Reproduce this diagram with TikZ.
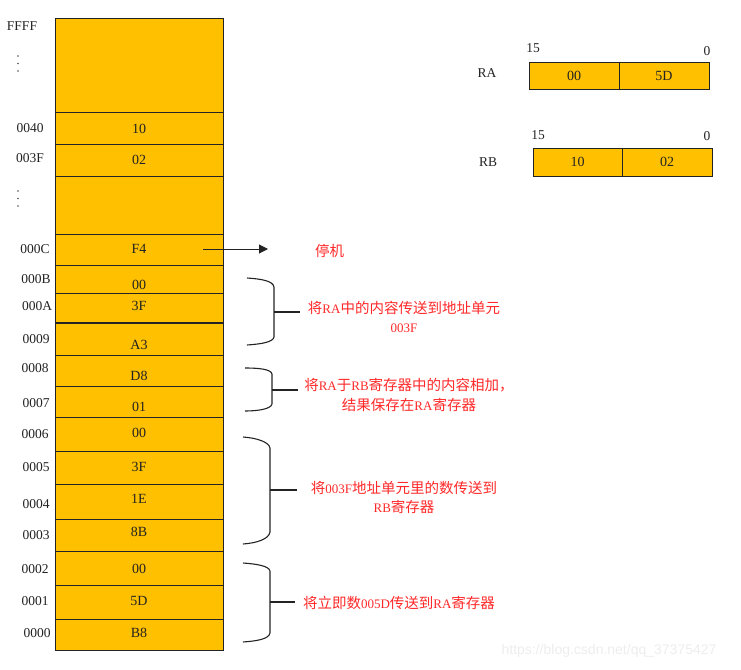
\documentclass[tikz,border=0pt]{standalone}
\usepackage{fontspec}
\setmainfont{Liberation Serif}
\newfontfamily\cjk{Noto Sans CJK SC}
\newfontfamily\wmfont{Liberation Sans}
\usetikzlibrary{arrows.meta}
\definecolor{gold}{RGB}{255,192,0}
\definecolor{note}{RGB}{255,40,40}
\definecolor{ink}{RGB}{35,35,35}
\newcommand\lt[1]{{\rmfamily\fontsize{13}{19}\selectfont #1}}
\begin{document}
\begin{tikzpicture}[x=1pt,y=-1pt,
  cell/.style={draw=ink, line width=0.9pt, fill=gold, minimum width=168pt, inner sep=0pt, outer sep=0pt},
  val/.style={font=\fontsize{14}{16}\selectfont, text=ink, inner sep=0pt},
  addr/.style={font=\fontsize{13.5}{16}\selectfont, text=ink, inner sep=0pt},
  reg/.style={draw=ink, line width=0.9pt, fill=gold, minimum height=27pt, minimum width=90pt, inner sep=0pt, outer sep=0pt, font=\fontsize{14}{16}\selectfont, text=ink},
  note/.style={text=note, font=\cjk\fontsize{14.5}{19.5}\selectfont, align=center, inner sep=1pt},
  brace/.style={draw=ink, line width=1.1pt},
  dotm/.style={fill=ink!80}
]
\useasboundingbox (0,0) rectangle (741,669);

% memory column
\node[cell, minimum height=94.7pt] (cellTop) at (139,65.35) {};
\node[cell, minimum height=58.3pt] (cellGap) at (139,205.15) {};
\foreach \n/\c/\h/\v/\ty in {
  0040/128.5/31.6/10/128.5,
  003F/160.15/31.7/02/160,
  000C/249.8/31/F4/248.5,
  000B/279.5/28.4/00/285,
  000A/308.2/29/3F/306,
  0009/338.85/32.3/A3/345,
  0008/370.5/31/D8/376,
  0007/401.85/31.7/01/407,
  0006/434.7/34/00/433,
  0005/468/32.6/3F/467,
  0004/501.65/34.7/1E/499,
  0003/535.35/32.7/8B/532,
  0002/568.7/34/00/569,
  0001/602.35/33.3/5D/601,
  0000/634.85/31.7/B8/633}{
  \node[cell, minimum height=\h pt] (cell\n) at (139,\c) {};
  \node[val] (val\n) at (139,\ty) {\v};
}
\draw[draw=ink, line width=2pt] (cell000A.south west) -- (cell000A.south east);

% address labels
\foreach \n/\x/\y in {FFFF/22/26, 0040/30/128, 003F/30/158, 000C/35/249, 000B/36/279,
  000A/37/306, 0009/36/339, 0008/35/368, 0007/36/403, 0006/35/434, 0005/36/467,
  0004/36/504, 0003/36/535, 0002/35/569, 0001/35/601, 0000/37/633}{
  \node[addr] (addr\n) at (\x,\y) {\n};
}
% vertical dots
\foreach \y in {56,63.5,71,191,198.5,206}{
  \fill[dotm] (18,\y) circle (0.9);
}

% halt arrow
\coordinate (haltEnd) at (268,249);
\node[note, anchor=west] (halt) at (314,251) {停机};
\draw[draw=ink, line width=1pt, -{Triangle[length=9pt,width=9pt]}] (203,249) -- (haltEnd);

% registers
\node[reg, minimum width=90pt] (raHi) at (574,75.5) {00};
\node[reg, minimum width=90pt] (raLo) at (664,75.5) {5D};
\node[reg, minimum width=89pt, minimum height=28pt] (rbHi) at (577.5,162) {10};
\node[reg, minimum width=90pt, minimum height=28pt] (rbLo) at (667,162) {02};
\node[addr] (raName) at (487,73) {RA};
\node[addr] (rbName) at (488,162) {RB};
\node[addr] (ra15) at (533,48) {15};
\node[addr] (ra0) at (707,51) {0};
\node[addr] (rb15) at (538,135) {15};
\node[addr] (rb0) at (707,136) {0};

% brace 1
\draw[brace] (247,278) .. controls (262,279) and (273,281) .. (274,287) -- (274,337) .. controls (273,342) and (262,344) .. (247,345);
\coordinate (tip1) at (274,312);
\node[note] (note1) at (404,317) {将\lt{RA}中的内容传送到地址单元\\\lt{003F}};
\draw[brace] (tip1) -- (300,312);

% brace 2
\draw[brace] (245,368) .. controls (258,368) and (271,369) .. (272,374) -- (272,404) .. controls (271,409) and (258,411) .. (245,411);
\coordinate (tip2) at (272,390);
\node[note] (note2) at (409,395) {将\lt{RA}于\lt{RB}寄存器中的内容相加，\\结果保存在\lt{RA}寄存器};
\draw[brace] (tip2) -- (298,390);

% brace 3
\draw[brace] (243,437) .. controls (257,438) and (269,442) .. (270,448) -- (270,532) .. controls (269,539) and (257,543) .. (243,544);
\coordinate (tip3) at (270,490);
\node[note] (note3) at (404,497.5) {将\lt{003F}地址单元里的数传送到\\\lt{RB}寄存器};
\draw[brace] (tip3) -- (297,490);

% brace 4
\draw[brace] (243,563) .. controls (257,564) and (269,566) .. (270,571) -- (270,633) .. controls (269,639) and (257,641) .. (243,642);
\coordinate (tip4) at (270,602);
\node[note] (note4) at (399,603) {将立即数\lt{005D}传送到\lt{RA}寄存器};
\draw[brace] (tip4) -- (295,602);

% watermark
\node[text=black!7, font=\wmfont\fontsize{14}{16}\selectfont, inner sep=0pt] (wm) at (609,651) {https://blog.csdn.net/qq\_37375427};
\end{tikzpicture}
\end{document}
